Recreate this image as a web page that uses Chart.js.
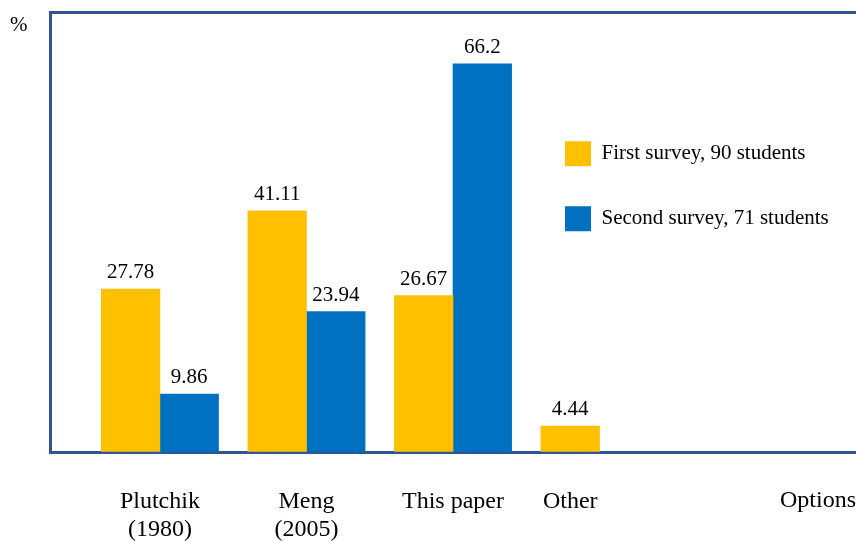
<!DOCTYPE html>
<html>
<head>
<meta charset="utf-8">
<script src="https://cdn.jsdelivr.net/npm/chart.js@4.4.1/dist/chart.umd.min.js"></script>
<style>
  html, body { margin: 0; padding: 0; background: #fff; }
  canvas { display: block; }
</style>
</head>
<body>
<canvas id="chart" width="856" height="542"></canvas>
<script>
// Survey results: share of students (%) choosing each emotion model
const categories = [['Plutchik', '(1980)'], ['Meng', '(2005)'], 'This paper', 'Other'];
const firstSurvey = [27.78, 41.11, 26.67, 4.44];
const secondSurvey = [9.86, 23.94, 66.2, null];
const seriesNames = ['First survey, 90 students', 'Second survey, 71 students'];
const yMax = 75;

const FONT = '"Liberation Serif", "Times New Roman", serif';
const FRAME = '#2F5597';
const YELLOW = '#FFC000';
const BLUE = '#0070C0';

// groups sit on a linear index axis so the frame can run past the last group
const groupStart = 0.75;
const xMax = 5.5;
const groupShare = 0.8;   // part of each unit taken by a group of two bars

const toPoints = (vals) => vals.map((v, i) => ({ x: i + groupStart, y: v }));

// tick under each group; a group with a single bar gets its label under that bar
const tickPositions = categories.map((c, i) =>
  secondSurvey[i] == null ? i + groupStart - groupShare / 4 : i + groupStart);

// each bar is half of a group, measured on the x scale
const barWidth = (ctx) => {
  const s = ctx.chart.scales.x;
  return (s.getPixelForValue(1) - s.getPixelForValue(0)) * groupShare / 2;
};

const valueLabels = {
  id: 'valueLabels',
  afterDatasetsDraw(chart) {
    const ctx = chart.ctx;
    ctx.save();
    ctx.font = '21px ' + FONT;
    ctx.fillStyle = '#000';
    ctx.textAlign = 'center';
    ctx.textBaseline = 'alphabetic';
    chart.data.datasets.forEach((ds, di) => {
      chart.getDatasetMeta(di).data.forEach((bar, i) => {
        const v = ds.data[i].y;
        if (v == null) return;
        ctx.fillText(String(v), bar.x, bar.y - 11);
      });
    });
    ctx.restore();
  }
};

// place the legend block at the right of the plot
const legendPlacement = {
  id: 'legendPlacement',
  beforeDraw(chart) {
    const lg = chart.legend;
    const ca = chart.chartArea;
    lg.left = ca.left + 475;
    lg.top = ca.top + 89;
  }
};

new Chart(document.getElementById('chart'), {
  type: 'bar',
  data: {
    datasets: [
      { label: seriesNames[0], data: toPoints(firstSurvey), backgroundColor: YELLOW, barThickness: barWidth },
      { label: seriesNames[1], data: toPoints(secondSurvey), backgroundColor: BLUE, barThickness: barWidth }
    ]
  },
  options: {
    responsive: false,
    animation: false,
    events: [],
    layout: { padding: { left: 10, right: 0, top: 0, bottom: 0 } },
    scales: {
      x: {
        type: 'linear',
        min: 0,
        max: xMax,
        offset: false,
        afterBuildTicks: (scale) => { scale.ticks = tickPositions.map(v => ({ value: v })); },
        afterFit: (scale) => { scale.height = 90; },
        ticks: {
          autoSkip: false,
          maxRotation: 0,
          padding: 35,
          color: '#000',
          font: { family: FONT, size: 24 },
          callback: (value, index) => categories[index]
        },
        grid: { display: true, drawOnChartArea: false, drawTicks: false },
        border: { display: true, color: FRAME, width: 3 },
        title: {
          display: true,
          text: 'Options',
          align: 'end',
          color: '#000',
          font: { family: FONT, size: 24 },
          padding: { top: 0, bottom: 27 }
        }
      },
      xTop: {
        type: 'linear',
        position: 'top',
        min: 0,
        max: xMax,
        afterFit: (scale) => { scale.height = 0; },
        ticks: { display: false },
        grid: { display: true, drawOnChartArea: false, drawTicks: false },
        border: { display: true, color: FRAME, width: 3 }
      },
      y: {
        min: 0,
        max: yMax,
        afterFit: (scale) => { scale.width = 40; },
        ticks: { display: false },
        grid: { display: true, drawOnChartArea: false, drawTicks: false },
        border: { display: true, color: FRAME, width: 3 }
      }
    },
    plugins: {
      title: {
        display: true,
        text: '%',
        align: 'start',
        color: '#000',
        font: { family: FONT, size: 21, weight: 'normal' },
        padding: { top: 13, bottom: -26 }
      },
      legend: {
        position: 'chartArea',
        align: 'start',
        labels: {
          boxWidth: 26,
          boxHeight: 25,
          padding: 40,
          color: '#000',
          font: { family: FONT, size: 21 }
        }
      },
      tooltip: { enabled: false }
    }
  },
  plugins: [valueLabels, legendPlacement]
});
</script>
</body>
</html>
